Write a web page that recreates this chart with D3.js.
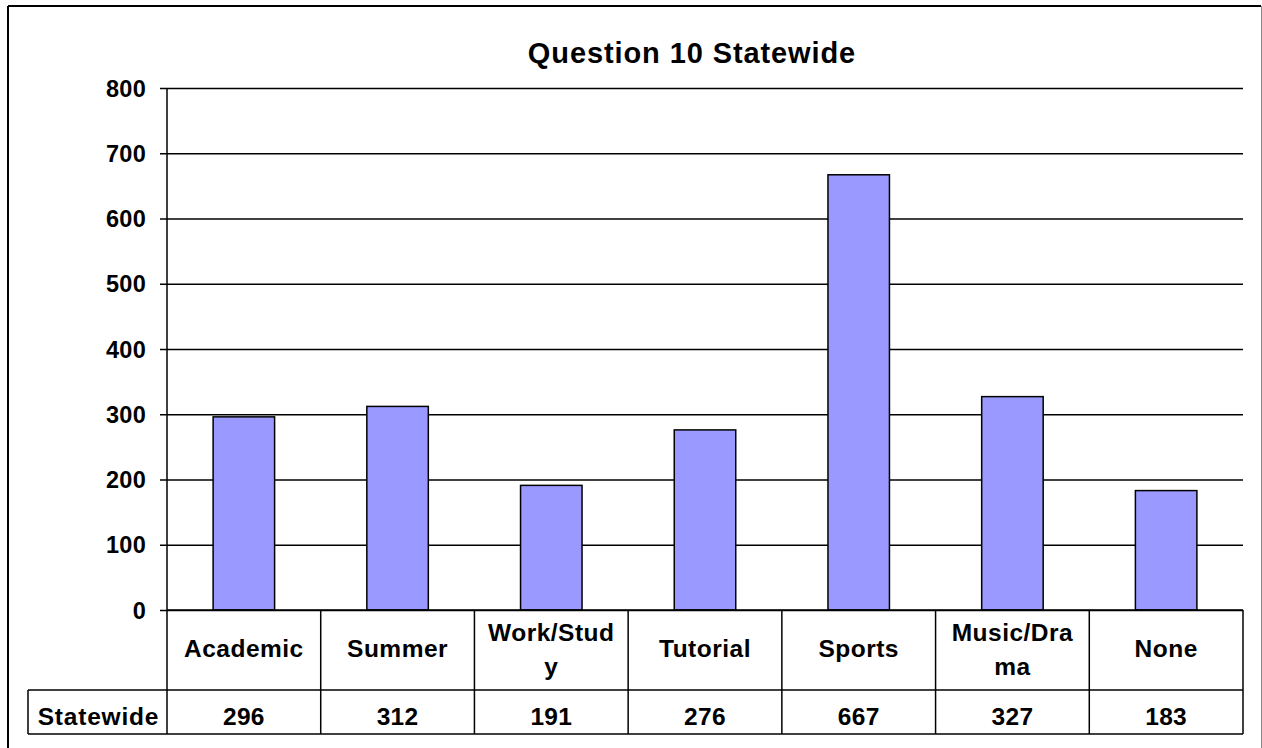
<!DOCTYPE html>
<html><head><meta charset="utf-8">
<script src="https://cdn.jsdelivr.net/npm/d3@7"></script>
<style>
html,body{margin:0;padding:0;background:#fff;}
svg{display:block;font-family:"Liberation Sans",Arial,sans-serif;font-weight:bold;}
</style></head>
<body>
<script>
const titleText = "Question 10 Statewide";
const categories = ["Academic","Summer","Work/Study","Tutorial","Sports","Music/Drama","None"];
const categoryLines = [["Academic"],["Summer"],["Work/Stud","y"],["Tutorial"],["Sports"],["Music/Dra","ma"],["None"]];
const seriesName = "Statewide";
const values = [296,312,191,276,667,327,183];
const yTicks = [0,100,200,300,400,500,600,700,800];

const W = 1262, H = 748;
const plotLeft = 167, plotRight = 1243, plotTop = 88, zeroY = 610;
const catRowBottom = 690, valRowBottom = 734, headerLeft = 28;

const svg = d3.select("body").append("svg").attr("width", W).attr("height", H);

// outer chart border
svg.append("line").attr("x1",8).attr("y1",6).attr("x2",1261).attr("y2",6).attr("stroke","#000").attr("stroke-width",2);
svg.append("line").attr("x1",8).attr("y1",6).attr("x2",8).attr("y2",H+2).attr("stroke","#000").attr("stroke-width",2);
svg.append("line").attr("x1",1261.5).attr("y1",6).attr("x2",1261.5).attr("y2",H+2).attr("stroke","#888").attr("stroke-width",1);

const x = d3.scaleBand().domain(categories).range([plotLeft,plotRight]).paddingInner(0.6).paddingOuter(0.3);
const xCell = d3.scaleBand().domain(categories).range([plotLeft,plotRight]).padding(0);
const y = d3.scaleLinear().domain([0,800]).range([zeroY, plotTop]);

// title
svg.append("text").attr("x",692).attr("y",63).attr("text-anchor","middle")
  .style("font-size","29px").style("letter-spacing","0.9px").text(titleText);

// gridlines + ticks
const yAxis = d3.axisLeft(y).tickValues(yTicks).tickSize(-(plotRight-plotLeft)).tickSizeOuter(0).tickPadding(14).tickFormat(d3.format("d"));
const gy = svg.append("g").attr("transform",`translate(${plotLeft},0)`).call(yAxis);
gy.select(".domain").remove();
gy.selectAll(".tick line").attr("stroke","#000").attr("stroke-width",1.5).attr("x1",-7);
gy.selectAll(".tick text").attr("fill","#000").style("font-size","23.5px").style("font-family","'Liberation Sans',Arial,sans-serif").style("font-weight","bold").style("letter-spacing","0.3px").attr("dy","0.35em").attr("x",-21);

// bars
svg.append("g").selectAll("rect").data(values).join("rect")
  .attr("x",(d,i)=>x(categories[i]))
  .attr("y",d=>y(d))
  .attr("width",x.bandwidth())
  .attr("height",d=>zeroY-y(d))
  .attr("fill","#9999FF").attr("stroke","#000").attr("stroke-width",1.5);

// y axis line
svg.append("line").attr("x1",plotLeft).attr("x2",plotLeft).attr("y1",plotTop).attr("y2",valRowBottom).attr("stroke","#000").attr("stroke-width",1.5);

// data table lines
const tl = svg.append("g").attr("stroke","#000").attr("stroke-width",1.5);
tl.append("line").attr("x1",plotLeft).attr("x2",plotRight).attr("y1",zeroY).attr("y2",zeroY);
tl.append("line").attr("x1",headerLeft).attr("x2",plotRight).attr("y1",catRowBottom).attr("y2",catRowBottom);
tl.append("line").attr("x1",headerLeft).attr("x2",plotRight).attr("y1",valRowBottom).attr("y2",valRowBottom);
tl.append("line").attr("x1",headerLeft).attr("x2",headerLeft).attr("y1",catRowBottom).attr("y2",valRowBottom);
categories.forEach(c=>{
  tl.append("line").attr("x1",xCell(c)+xCell.bandwidth()).attr("x2",xCell(c)+xCell.bandwidth()).attr("y1",zeroY).attr("y2",valRowBottom);
});

// category labels
const cg = svg.append("g").style("font-size","24.5px").style("letter-spacing","0.5px").attr("text-anchor","middle");
categories.forEach((c,i)=>{
  const lines = categoryLines[i];
  const cx = xCell(c)+xCell.bandwidth()/2;
  const t = cg.append("text").attr("x",cx);
  if(lines.length===1){ t.attr("y",657).text(lines[0]); }
  else {
    lines.forEach((ln,j)=>t.append("tspan").attr("x",cx).attr("y",641+j*34).text(ln));
  }
});

// values row
const vg = svg.append("g").style("font-size","24.5px").style("letter-spacing","0.3px").attr("text-anchor","middle");
values.forEach((v,i)=>{
  vg.append("text").attr("x",xCell(categories[i])+xCell.bandwidth()/2).attr("y",725).text(d3.format("d")(v));
});
svg.append("text").attr("x",(headerLeft+plotLeft)/2+1).attr("y",725).attr("text-anchor","middle")
  .style("font-size","24.5px").style("letter-spacing","0.8px").text(seriesName);
</script>
</body></html>
